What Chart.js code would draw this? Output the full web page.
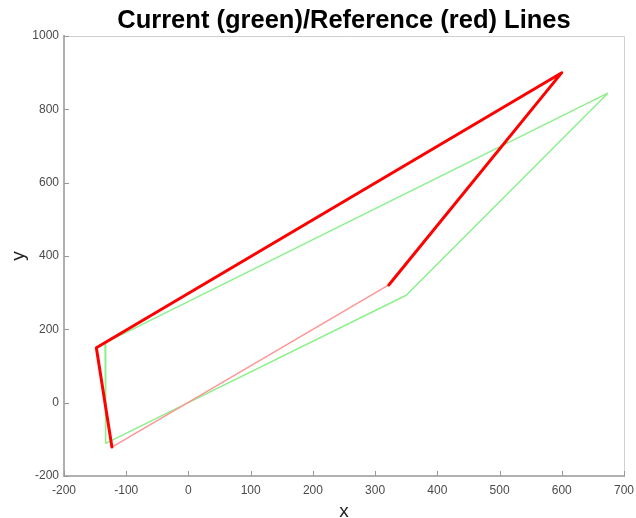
<!DOCTYPE html>
<html>
<head>
<meta charset="utf-8">
<script src="https://cdn.jsdelivr.net/npm/chart.js@4/dist/chart.umd.min.js"></script>
<style>
html,body{margin:0;padding:0;background:#fff;}
#wrap{width:636px;height:518px;}
</style>
</head>
<body>
<div id="wrap"><canvas id="c" width="636" height="518"></canvas></div>
<script>
// Data
const titleText = 'Current (green)/Reference (red) Lines';
const xTicks = [-200, -100, 0, 100, 200, 300, 400, 500, 600, 700];
const yTicks = [-200, 0, 200, 400, 600, 800, 1000];

// Reference (red) polyline: thick part
const refThickX = [322, 600, -148, -123];
const refThickY = [321, 900, 150, -121];
// Reference (red) closing segment: thin, faded
const refThinX = [-123, 322];
const refThinY = [-121, 321];
// Current (green) closed polygon
const curX = [674, -134, -133, 350, 674];
const curY = [844, 163, -111, 293, 844];

const pts = (xs, ys) => xs.map((x, i) => ({x: x, y: ys[i]}));

const innerTicks = {
  id: 'innerTicks',
  afterDraw(chart) {
    const {ctx, chartArea: a, scales} = chart;
    ctx.save();
    ctx.strokeStyle = '#d0d0d0';
    ctx.lineWidth = 1;
    ctx.beginPath();
    ctx.moveTo(a.left, a.top + 0.5);
    ctx.lineTo(a.right + 0.5, a.top + 0.5);
    ctx.lineTo(a.right + 0.5, a.bottom);
    ctx.stroke();
    ctx.strokeStyle = '#999';
    ctx.lineWidth = 1;
    ctx.beginPath();
    scales.x.ticks.forEach(t => {
      const px = Math.round(scales.x.getPixelForValue(t.value)) + 0.5;
      ctx.moveTo(px, a.bottom);
      ctx.lineTo(px, a.bottom - 5);
    });
    scales.y.ticks.forEach(t => {
      const py = Math.round(scales.y.getPixelForValue(t.value)) + 0.5;
      ctx.moveTo(a.left, py);
      ctx.lineTo(a.left + 5, py);
    });
    ctx.stroke();
    ctx.restore();
  }
};

const fontFam = 'Liberation Sans, Arial, sans-serif';

new Chart(document.getElementById('c'), {
  type: 'scatter',
  data: {
    datasets: [
      {data: pts(refThickX, refThickY), showLine: true, borderColor: 'rgb(255,0,0)', borderWidth: 3, borderJoinStyle: 'round', borderCapStyle: 'round', pointRadius: 0, order: 1, tension: 0},
      {data: pts(refThinX, refThinY), showLine: true, borderColor: 'rgb(255,150,150)', borderWidth: 1.5, pointRadius: 0, order: 2, tension: 0},
      {data: pts(curX, curY), showLine: true, borderColor: 'rgb(140,240,140)', borderWidth: 1.5, borderJoinStyle: 'round', pointRadius: 0, order: 3, tension: 0}
    ]
  },
  options: {
    responsive: false,
    animation: false,
    layout: {padding: {left: 0, right: 0, top: 0, bottom: 0}},
    plugins: {
      legend: {display: false},
      tooltip: {enabled: false},
      title: {
        display: true, text: titleText, fullSize: false,
        color: '#000',
        font: {family: fontFam, size: 25.5, weight: 'bold', lineHeight: 1},
        padding: {top: 8, bottom: 2.5}
      }
    },
    scales: {
      x: {
        type: 'linear', min: -200, max: 700,
        afterBuildTicks: s => { s.ticks = xTicks.map(v => ({value: v})); },
        afterFit: s => { s.height = 42; s.paddingRight = 12; s.paddingLeft = 0; },
        grid: {display: false, drawOnChartArea: false, drawTicks: false},
        border: {display: true, color: '#b0b0b0', width: 2},
        ticks: {color: '#4a4a4a', padding: 7, maxRotation: 0, autoSkip: false,
          callback: v => String(v),
          font: {family: fontFam, size: 12}},
        title: {display: true, text: 'x', color: '#222', padding: {top: 0, bottom: 0},
          font: {family: fontFam, size: 19, lineHeight: 0.7}}
      },
      y: {
        type: 'linear', min: -200, max: 1000,
        afterBuildTicks: s => { s.ticks = yTicks.map(v => ({value: v})); },
        afterFit: s => { s.width = 64; },
        grid: {display: false, drawOnChartArea: false, drawTicks: false},
        border: {display: true, color: '#b0b0b0', width: 2},
        ticks: {color: '#4a4a4a', padding: 5, autoSkip: false,
          callback: v => String(v),
          font: {family: fontFam, size: 12}},
        title: {display: true, text: 'y', color: '#222', padding: {top: 9, bottom: 0},
          font: {family: fontFam, size: 19, lineHeight: 1}}
      }
    }
  },
  plugins: [innerTicks]
});
</script>
</body>
</html>
